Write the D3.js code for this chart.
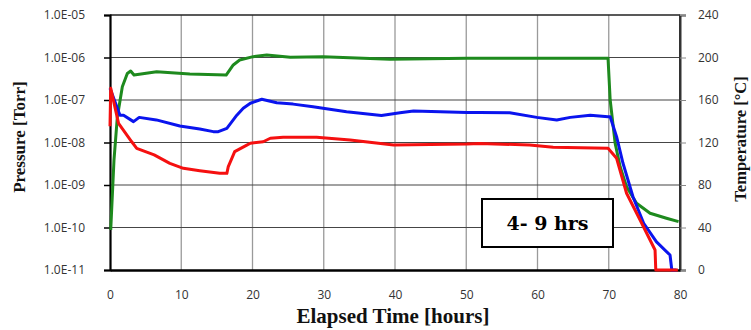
<!DOCTYPE html>
<html>
<head>
<meta charset="utf-8">
<script src="https://cdn.jsdelivr.net/npm/d3@7"></script>
<style>
  html, body { margin: 0; padding: 0; background: #fff; }
  svg { display: block; }
</style>
</head>
<body>
<svg id="chart" width="751" height="330"></svg>
<script>
// Elapsed time [hours] and pressure [Torr] for the blue gauge
const blueTime = [0, 1.4, 1.9, 3.3, 4.1, 6.5, 9.8, 12.6, 14.5, 15.2, 16.4, 17.8, 18.7, 19.7, 21.3, 23.4, 25.7, 28.5, 29.9, 33.2, 38.1, 40.7, 42.6, 50.1, 51.9, 56.1, 59.9, 62.7, 64.6, 67.4, 69.9, 70.2, 71.1, 72.0, 73.4, 74.9, 76.7, 78.6, 78.85, 79.5];
const bluePressure = [1.9e-7, 4.4e-8, 4.4e-8, 3.1e-8, 3.9e-8, 3.4e-8, 2.45e-8, 2.08e-8, 1.8e-8, 1.8e-8, 2.16e-8, 4.4e-8, 6.4e-8, 8.4e-8, 1.04e-7, 8.6e-8, 8.0e-8, 6.95e-8, 6.4e-8, 5.3e-8, 4.3e-8, 5.0e-8, 5.5e-8, 5.1e-8, 5.1e-8, 5.0e-8, 3.9e-8, 3.4e-8, 3.9e-8, 4.36e-8, 4.05e-8, 4.05e-8, 1.37e-8, 3.24e-9, 5.3e-10, 1.26e-10, 4.6e-11, 2.25e-11, 1e-11, 1e-11];

// Red gauge
const redTime = [0, 0.1, 1.2, 3.05, 3.75, 6.2, 8.4, 10.3, 12.6, 15.4, 16.4, 16.6, 17.1, 17.5, 19.2, 19.7, 21.5, 22.5, 24.3, 29.0, 33.7, 39.8, 50.1, 51.9, 58.9, 62.2, 69.9, 71.1, 72.5, 74.4, 76.5, 76.6, 79.7];
const redPressure = [2.4e-8, 1.9e-7, 2.83e-8, 1.04e-8, 7.3e-9, 5.1e-9, 3.24e-9, 2.47e-9, 2.17e-9, 1.88e-9, 1.88e-9, 2.7e-9, 4.25e-9, 6.1e-9, 8.7e-9, 9.6e-9, 1.04e-8, 1.26e-8, 1.33e-8, 1.33e-8, 1.15e-8, 8.7e-9, 9.2e-9, 9.5e-9, 8.7e-9, 7.7e-9, 7.3e-9, 4.25e-9, 6.4e-10, 1.5e-10, 2.96e-11, 1e-11, 1e-11];

// Temperature [°C], green
const greenTime = [0.1, 0.56, 1.03, 1.73, 2.43, 2.9, 3.37, 6.55, 11.2, 16.3, 17.3, 18.2, 20.1, 22.0, 25.3, 29.9, 39.3, 50.1, 54.7, 69.9, 70.2, 70.9, 71.6, 72.5, 73.9, 75.8, 78.1, 79.8];
const greenTemp = [37.6, 103.5, 144, 172.5, 185, 187.3, 183.5, 186.6, 184.5, 183.5, 193, 197.6, 200.8, 202.4, 200.2, 200.8, 198.3, 199.2, 199.2, 199.2, 160, 119.2, 97.2, 78.4, 62.8, 53.4, 48.7, 45.5];

// Axis ticks
const timeTicks = [0, 10, 20, 30, 40, 50, 60, 70, 80];
const pressureTicks = [1e-11, 1e-10, 1e-9, 1e-8, 1e-7, 1e-6, 1e-5];
const tempTicks = [0, 40, 80, 120, 160, 200, 240];

const boxLabel = "4- 9 hrs";

const svg = d3.select("#chart");
const plot = { left: 110, right: 680, top: 15, bottom: 270 };

const x = d3.scaleLinear().domain([0, 80]).range([plot.left, plot.right]);
const yP = d3.scaleLog().domain([1e-11, 1e-5]).range([plot.bottom, plot.top]);
const yT = d3.scaleLinear().domain([0, 240]).range([plot.bottom, plot.top]);

const fmtP = d => "1.0E-" + String(-Math.round(Math.log10(d))).padStart(2, "0");

// Grid: vertical time lines and horizontal decade lines
svg.append("g").selectAll("line").data(timeTicks.slice(1, -1)).join("line")
  .attr("x1", d => x(d)).attr("x2", d => x(d))
  .attr("y1", plot.top).attr("y2", plot.bottom)
  .attr("stroke", "#9a9a9a").attr("stroke-width", 1.3);
svg.append("g").selectAll("line").data(pressureTicks.slice(1, -1)).join("line")
  .attr("x1", plot.left).attr("x2", plot.right)
  .attr("y1", d => yP(d)).attr("y2", d => yP(d))
  .attr("stroke", "#454545").attr("stroke-width", 1.1);

// Plot frame
svg.append("line").attr("x1", plot.left).attr("x2", plot.right).attr("y1", plot.top).attr("y2", plot.top)
  .attr("stroke", "#222").attr("stroke-width", 1.6);
svg.append("line").attr("x1", plot.right).attr("x2", plot.right).attr("y1", plot.top).attr("y2", plot.bottom)
  .attr("stroke", "#333").attr("stroke-width", 2);

// Left pressure axis
const gL = svg.append("g").attr("transform", `translate(${plot.left},0)`)
  .call(d3.axisLeft(yP).tickValues(pressureTicks).tickFormat(fmtP).tickSize(6).tickPadding(19));
// Right temperature axis
const gR = svg.append("g").attr("transform", `translate(${plot.right},0)`)
  .call(d3.axisRight(yT).tickValues(tempTicks).tickSize(6).tickPadding(12));
// Bottom time axis
const gB = svg.append("g").attr("transform", `translate(0,${plot.bottom})`)
  .call(d3.axisBottom(x).tickValues(timeTicks).tickSize(0).tickPadding(20));

[gL, gR, gB].forEach(g => {
  g.selectAll("text").attr("font-family", "'Open Sans', sans-serif")
    .attr("font-size", 12).attr("fill", "#333");
});
gL.select(".domain").attr("stroke", "#000").attr("stroke-width", 2.2);
gL.selectAll(".tick line").attr("stroke", "#000").attr("stroke-width", 1.5);
gR.select(".domain").attr("stroke", "#333").attr("stroke-width", 2);
gR.selectAll(".tick line").attr("stroke", "#888").attr("stroke-width", 1);
gB.select(".domain").attr("stroke", "#000").attr("stroke-width", 2.4);

// Series
const lineP = (ts, vs) => d3.line().x((d, i) => x(ts[i])).y((d, i) => yP(vs[i]))(vs);
const lineT = d3.line().x((d, i) => x(greenTime[i])).y((d, i) => yT(greenTemp[i]))(greenTemp);

svg.append("path").attr("d", lineT).attr("fill", "none")
  .attr("stroke", "#1e8a1e").attr("stroke-width", 3).attr("stroke-linejoin", "round");
svg.append("path").attr("d", lineP(blueTime, bluePressure)).attr("fill", "none")
  .attr("stroke", "#0a14ee").attr("stroke-width", 3).attr("stroke-linejoin", "round");
svg.append("path").attr("d", lineP(redTime, redPressure)).attr("fill", "none")
  .attr("stroke", "#f51010").attr("stroke-width", 3).attr("stroke-linejoin", "round");

// Annotation box
svg.append("rect").attr("x", 482).attr("y", 199).attr("width", 131).attr("height", 48)
  .attr("fill", "#fff").attr("stroke", "#000").attr("stroke-width", 2);
svg.append("text").attr("x", 547.5).attr("y", 230)
  .attr("text-anchor", "middle")
  .attr("font-family", "'DejaVu Serif', serif").attr("font-weight", "bold")
  .attr("font-size", 19).attr("fill", "#000").text(boxLabel);

// Axis titles
const titleFont = "'Liberation Serif', 'Times New Roman', serif";
svg.append("text").attr("transform", "translate(25,137) rotate(-90)")
  .attr("text-anchor", "middle").attr("font-family", titleFont).attr("font-weight", "bold")
  .attr("font-size", 17).attr("fill", "#111").text("Pressure [Torr]");
svg.append("text").attr("transform", "translate(746,139) rotate(-90)")
  .attr("text-anchor", "middle").attr("font-family", titleFont).attr("font-weight", "bold")
  .attr("font-size", 16.5).attr("fill", "#111").text("Temperature [°C]");
svg.append("text").attr("x", 393).attr("y", 323)
  .attr("text-anchor", "middle").attr("font-family", titleFont).attr("font-weight", "bold")
  .attr("font-size", 21).attr("fill", "#111").text("Elapsed Time [hours]");
</script>
</body>
</html>
